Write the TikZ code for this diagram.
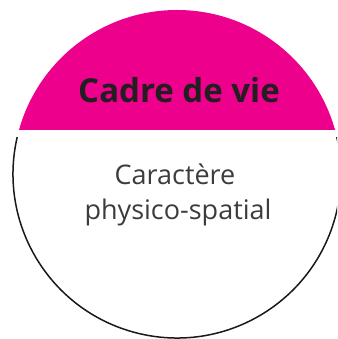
\documentclass[tikz,border=0pt]{standalone}
\usepackage{fontspec}
\setmainfont{Open Sans}
\usetikzlibrary{positioning}
\definecolor{cadremagenta}{HTML}{EC008C}
\definecolor{textdark}{HTML}{231F20}
\definecolor{textgray}{HTML}{3C3C3B}
\tikzset{titre/.style = {anchor = base, text = textdark, font = \bfseries\fontsize{33}{40}\selectfont},
  soustitre/.style = {anchor = base, text = textgray, font = \fontsize{27}{33}\selectfont}}

\begin{document}
\begin{tikzpicture}[x = 1pt, y = 1pt]
    \useasboundingbox (0, 0) rectangle (337, 339);
    \clip (0, 0) rectangle (337, 339);

    % segment du haut
    \begin{scope}
      \clip (0, 209) rectangle (337, 339);
      \fill [cadremagenta] (177, 165) circle [radius = 164];
    \end{scope}
    % contour du bas
    \draw [line width = 1.5, black!90] (177, 165) ++(167:164) arc [start angle = 167, end angle = 373, radius = 164];

    \node [titre] (cadre) at (179, 236) {Cadre de vie};
    \node [soustitre] (caractere) at (175, 154) {Caractère};
    \node [soustitre] (physico) at (178, 119) {physico-spatial};
  \end{tikzpicture}
\end{document}
